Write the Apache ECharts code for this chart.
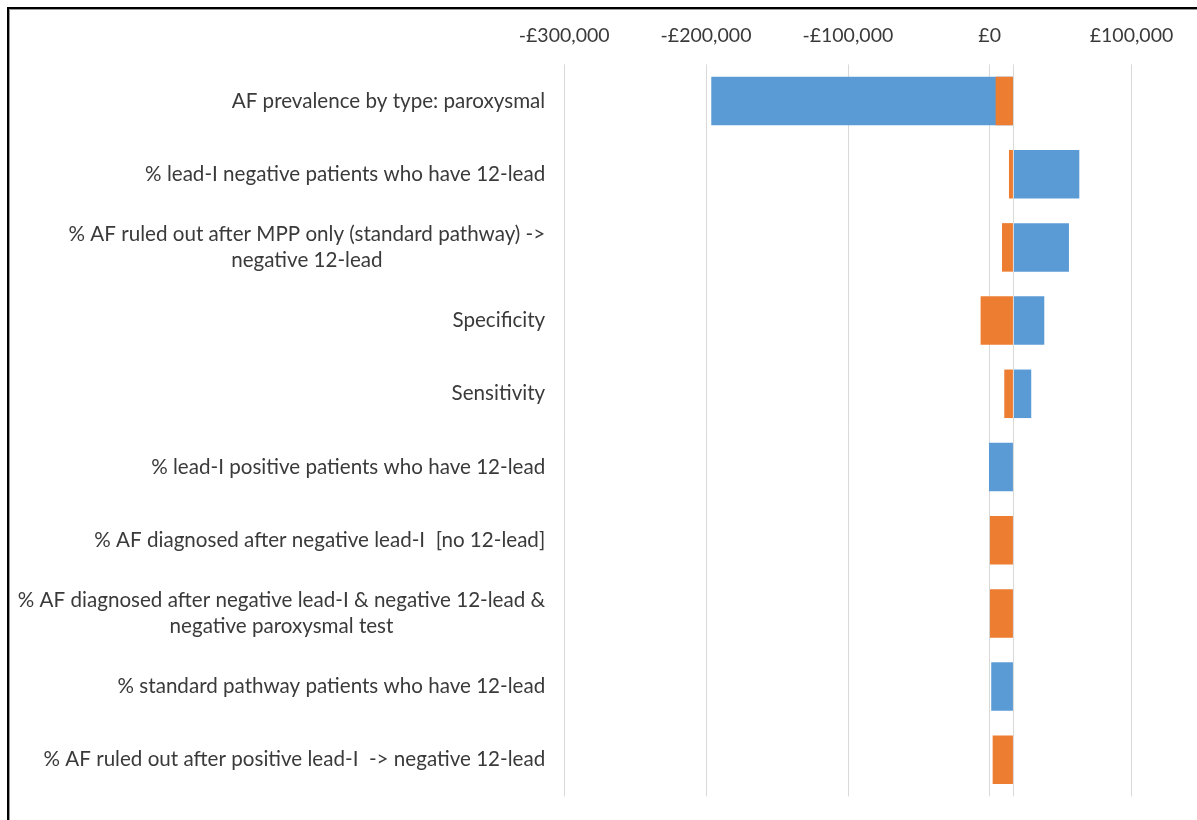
<!DOCTYPE html>
<html>
<head>
<meta charset="utf-8">
<script src="https://cdn.jsdelivr.net/npm/echarts@6/dist/echarts.min.js"></script>
<style>
  html, body { margin: 0; padding: 0; background: #fff; }
  #chart { position: absolute; left: 0; top: 0; width: 1197px; height: 820px; }
  #frame { position: absolute; left: 7px; top: 7px; width: 1300px; height: 900px;
           border-left: 2px solid #000; border-top: 2px solid #000; pointer-events: none; }
  #frame2 { position: absolute; left: 9px; top: 9px; width: 1300px; height: 900px;
           border-left: 1px solid #9a9a9a; border-top: 1px solid #9a9a9a; pointer-events: none; }
</style>
</head>
<body>
<div id="chart"></div>
<div id="frame"></div>
<div id="frame2"></div>
<script>
const categories = [
  'AF prevalence by type: paroxysmal',
  '% lead-I negative patients who have 12-lead',
  '% AF ruled out after MPP only (standard pathway) ->\nnegative 12-lead',
  'Specificity',
  'Sensitivity',
  '% lead-I positive patients who have 12-lead',
  '% AF diagnosed after negative lead-I  [no 12-lead]',
  '% AF diagnosed after negative lead-I & negative 12-lead &\nnegative paroxysmal test',
  '% standard pathway patients who have 12-lead',
  '% AF ruled out after positive lead-I  -> negative 12-lead'
];
const baseValue = 16400;
const blueValues = [-196300, 63200, 55900, 38500, 29300, -500, 16400, 16400, 1100, 16400];
const orangeValues = [4200, 13600, 8700, -6400, 10300, 16400, 200, 200, 16400, 2100];
const xTicks = { min: -300000, max: 100000, interval: 100000 };

const FONT = 'Lato';
const TXT = '#3a3a3a';

function renderBar(params, api) {
  const v = api.value(0);
  const cat = api.value(1);
  const p0 = api.coord([baseValue, cat]);
  const p1 = api.coord([v, cat]);
  const band = api.size([0, 1])[1];
  const h = band * 0.663;
  return {
    type: 'rect',
    shape: { x: Math.min(p0[0], p1[0]), y: p0[1] - h / 2, width: Math.abs(p1[0] - p0[0]), height: h },
    style: api.style()
  };
}

function fmtMoney(v) {
  const s = Math.abs(v).toLocaleString('en-GB');
  return (v < 0 ? '-£' : '£') + s;
}

const chart = echarts.init(document.getElementById('chart'), null, { renderer: 'canvas' });
chart.setOption({
  animation: false,
  backgroundColor: '#fff',
  grid: { left: 564.2, right: 65.5, top: 64.4, bottom: 23.6, containLabel: false },
  xAxis: {
    type: 'value', position: 'top',
    min: xTicks.min, max: xTicks.max, interval: xTicks.interval,
    axisLine: { show: false }, axisTick: { show: false },
    splitLine: { show: true, lineStyle: { color: '#D9D9D9', width: 1 } },
    axisLabel: { margin: 19, color: TXT, fontFamily: FONT, fontSize: 19.5, formatter: fmtMoney }
  },
  yAxis: {
    type: 'category', inverse: true, data: categories,
    axisLine: { show: false }, axisTick: { show: false },
    axisLabel: {
      margin: 19, color: TXT, fontFamily: FONT, fontSize: 20.6, align: 'right',
      formatter: function (v) { return v.split('\n').map(l => '{c|' + l + '}').join('\n'); },
      rich: { c: { align: 'center', color: TXT, fontFamily: FONT, fontSize: 20.6, lineHeight: 26 } }
    }
  },
  series: [
    {
      type: 'custom', name: 'Low', renderItem: renderBar,
      encode: { x: 0, y: 1 },
      itemStyle: { color: '#5B9BD5' },
      data: blueValues.map((v, i) => [v, i]),
      markLine: {
        silent: true, symbol: 'none', label: { show: false },
        lineStyle: { color: '#D9D9D9', type: 'solid', width: 1 },
        data: [{ xAxis: baseValue }]
      },
      z: 2
    },
    {
      type: 'custom', name: 'High', renderItem: renderBar,
      encode: { x: 0, y: 1 },
      itemStyle: { color: '#ED7D31' },
      data: orangeValues.map((v, i) => [v, i]),
      z: 3
    }
  ]
});
</script>
</body>
</html>
